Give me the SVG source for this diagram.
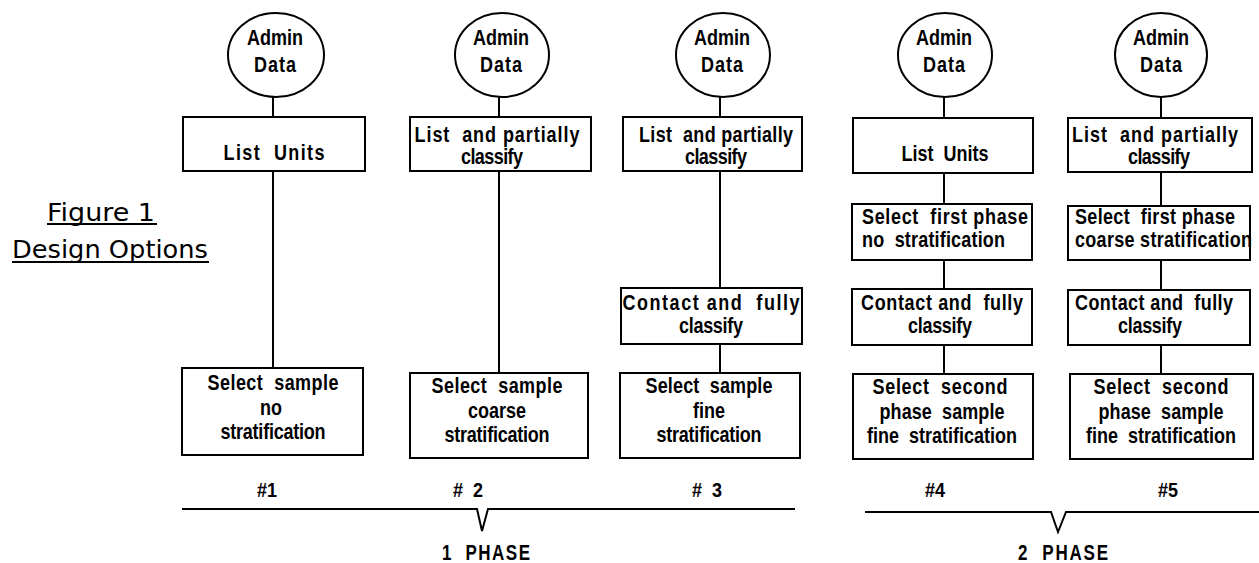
<svg xmlns="http://www.w3.org/2000/svg" width="1259" height="563" viewBox="0 0 1259 563">
<style>
.bg{fill:#fff}
.sh{fill:#fff;stroke:#000;stroke-width:2}
.ln{fill:none;stroke:#000;stroke-width:2}
.t{font-family:"Liberation Sans",Arial,sans-serif;font-weight:bold;font-size:18px;fill:#000;text-anchor:middle}
.s{text-anchor:start}
.h{font-family:"DejaVu Sans","Liberation Sans",sans-serif;font-size:25px;fill:#000}
</style>
<rect class="bg" x="0" y="0" width="1259" height="563"/>
<g id="connectors">
<path class="ln" d="M273,97V117M273,171V368"/>
<path class="ln" d="M499,97V117M499,171V373"/>
<path class="ln" d="M720,97V117M720,171V288M720,344V373"/>
<path class="ln" d="M944,97V118M944,173V204M944,260V289M944,345V374"/>
<path class="ln" d="M1161,97V118M1161,172V206M1161,260V290M1161,345V374"/>
<path class="ln" d="M182,509H477L482,531L488,509H795"/>
<path class="ln" d="M865,512H1051L1058,532L1066,512H1259"/>
</g>
<g id="title">
<text class="h" x="47" y="221" textLength="108" lengthAdjust="spacingAndGlyphs">Figure 1</text>
<line class="ln" x1="47" y1="224" x2="157" y2="224"/>
<text class="h" x="12" y="258" textLength="196" lengthAdjust="spacingAndGlyphs">Design  Options</text>
<line class="ln" x1="12" y1="262" x2="209" y2="262"/>
</g>
<g id="admin1"><ellipse class="sh" cx="276" cy="55" rx="48" ry="42"/>
<text class="t" transform="translate(275,45) scale(1,1.25)" textLength="56">Admin</text>
<text class="t" transform="translate(275,72) scale(1,1.25)" textLength="42">Data</text></g>
<g id="admin2"><ellipse class="sh" cx="502" cy="55" rx="47" ry="42"/>
<text class="t" transform="translate(501,45) scale(1,1.25)" textLength="56">Admin</text>
<text class="t" transform="translate(501,72) scale(1,1.25)" textLength="42">Data</text></g>
<g id="admin3"><ellipse class="sh" cx="723" cy="55" rx="47" ry="42"/>
<text class="t" transform="translate(722,45) scale(1,1.25)" textLength="56">Admin</text>
<text class="t" transform="translate(722,72) scale(1,1.25)" textLength="42">Data</text></g>
<g id="admin4"><ellipse class="sh" cx="945" cy="55" rx="47" ry="42"/>
<text class="t" transform="translate(944,45) scale(1,1.25)" textLength="56">Admin</text>
<text class="t" transform="translate(944,72) scale(1,1.25)" textLength="42">Data</text></g>
<g id="admin5"><ellipse class="sh" cx="1161" cy="55" rx="46" ry="42"/>
<text class="t" transform="translate(1161,45) scale(1,1.25)" textLength="56">Admin</text>
<text class="t" transform="translate(1161,72) scale(1,1.25)" textLength="42">Data</text></g>

<g id="list1"><rect class="sh" x="183" y="117" width="182" height="54"/>
<text class="t" xml:space="preserve" transform="translate(274,160) scale(1,1.2)" textLength="101">List  Units</text></g>
<g id="list2"><rect class="sh" x="410" y="117" width="181" height="54"/>
<text class="t" xml:space="preserve" transform="translate(497,142) scale(1,1.2)" textLength="165">List  and partially</text>
<text class="t" transform="translate(492,164) scale(1,1.2)" textLength="62">classify</text></g>
<g id="list3"><rect class="sh" x="623" y="117" width="179" height="54"/>
<text class="t" xml:space="preserve" transform="translate(716,142) scale(1,1.2)" textLength="154">List  and partially</text>
<text class="t" transform="translate(716,164) scale(1,1.2)" textLength="62">classify</text></g>
<g id="list4"><rect class="sh" x="853" y="118" width="180" height="55"/>
<text class="t" xml:space="preserve" transform="translate(945,161) scale(1,1.2)" textLength="87">List  Units</text></g>
<g id="list5"><rect class="sh" x="1068" y="118" width="184" height="54"/>
<text class="t" xml:space="preserve" transform="translate(1155,142) scale(1,1.2)" textLength="166">List  and partially</text>
<text class="t" transform="translate(1159,164) scale(1,1.2)" textLength="62">classify</text></g>

<g id="first4"><rect class="sh" x="852" y="204" width="180" height="56"/>
<text class="t s" xml:space="preserve" transform="translate(862,224) scale(1,1.2)" textLength="166">Select  first phase</text>
<text class="t s" xml:space="preserve" transform="translate(862,247) scale(1,1.2)" textLength="143">no  stratification</text></g>
<g id="first5"><rect class="sh" x="1068" y="206" width="182" height="54"/>
<text class="t s" xml:space="preserve" transform="translate(1075,224) scale(1,1.2)" textLength="160">Select  first phase</text>
<text class="t s" xml:space="preserve" transform="translate(1075,247) scale(1,1.2)" textLength="177">coarse stratification</text></g>

<g id="contact3"><rect class="sh" x="621" y="288" width="181" height="56"/>
<text class="t" xml:space="preserve" transform="translate(711,310) scale(1,1.2)" textLength="177">Contact and  fully</text>
<text class="t" transform="translate(711,333) scale(1,1.2)" textLength="64">classify</text></g>
<g id="contact4"><rect class="sh" x="852" y="289" width="180" height="56"/>
<text class="t" xml:space="preserve" transform="translate(942,310) scale(1,1.2)" textLength="162">Contact and  fully</text>
<text class="t" transform="translate(940,333) scale(1,1.2)" textLength="64">classify</text></g>
<g id="contact5"><rect class="sh" x="1068" y="290" width="182" height="55"/>
<text class="t" xml:space="preserve" transform="translate(1154,310) scale(1,1.2)" textLength="158">Contact and  fully</text>
<text class="t" transform="translate(1150,333) scale(1,1.2)" textLength="64">classify</text></g>

<g id="sample1"><rect class="sh" x="182" y="368" width="181" height="87"/>
<text class="t" xml:space="preserve" transform="translate(273,390) scale(1,1.2)" textLength="131">Select  sample</text>
<text class="t" transform="translate(271,414.5) scale(1,1.2)">no</text>
<text class="t" transform="translate(273,439) scale(1,1.2)" textLength="105">stratification</text></g>
<g id="sample2"><rect class="sh" x="410" y="373" width="178" height="85"/>
<text class="t" xml:space="preserve" transform="translate(497,393) scale(1,1.2)" textLength="131">Select  sample</text>
<text class="t" transform="translate(497,418) scale(1,1.2)">coarse</text>
<text class="t" transform="translate(497,442) scale(1,1.2)" textLength="105">stratification</text></g>
<g id="sample3"><rect class="sh" x="620" y="373" width="180" height="85"/>
<text class="t" xml:space="preserve" transform="translate(709,393) scale(1,1.2)" textLength="127">Select  sample</text>
<text class="t" transform="translate(709,418) scale(1,1.2)">fine</text>
<text class="t" transform="translate(709,442) scale(1,1.2)" textLength="105">stratification</text></g>
<g id="sample4"><rect class="sh" x="853" y="374" width="180" height="85"/>
<text class="t" xml:space="preserve" transform="translate(940,394) scale(1,1.2)" textLength="135">Select  second</text>
<text class="t" xml:space="preserve" transform="translate(942,418.5) scale(1,1.2)" textLength="125">phase  sample</text>
<text class="t" xml:space="preserve" transform="translate(942,443) scale(1,1.2)" textLength="150">fine  stratification</text></g>
<g id="sample5"><rect class="sh" x="1070" y="374" width="183" height="85"/>
<text class="t" xml:space="preserve" transform="translate(1161,394) scale(1,1.2)" textLength="135">Select  second</text>
<text class="t" xml:space="preserve" transform="translate(1161,418.5) scale(1,1.2)" textLength="125">phase  sample</text>
<text class="t" xml:space="preserve" transform="translate(1161,443) scale(1,1.2)" textLength="150">fine  stratification</text></g>

<g id="labels">
<text class="t" transform="translate(267,497) scale(1,1.1)">#1</text>
<text class="t" xml:space="preserve" transform="translate(468,497) scale(1,1.1)">#  2</text>
<text class="t" xml:space="preserve" transform="translate(707,497) scale(1,1.1)">#  3</text>
<text class="t" transform="translate(935,497) scale(1,1.1)">#4</text>
<text class="t" transform="translate(1168,497) scale(1,1.1)">#5</text>
<text class="t s" xml:space="preserve" transform="translate(442,560) scale(1,1.25)" textLength="88" style="font-size:17px">1  PHASE</text>
<text class="t s" xml:space="preserve" transform="translate(1018,560) scale(1,1.25)" textLength="90" style="font-size:17px">2  PHASE</text>
</g>
</svg>
